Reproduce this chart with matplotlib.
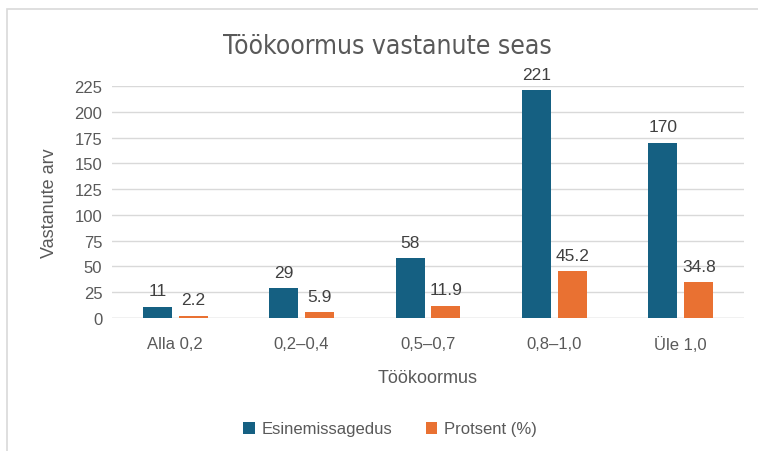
import matplotlib.pyplot as plt
import numpy as np
from matplotlib.patches import Rectangle

# data
categories = ["Alla 0,2", "0,2–0,4", "0,5–0,7", "0,8–1,0", "Üle 1,0"]
frequency = [11, 29, 58, 221, 170]
percent = [2.2, 5.9, 11.9, 45.2, 34.8]
yticks = [0, 25, 50, 75, 100, 125, 150, 175, 200, 225]

plt.rcParams['font.family'] = ['Liberation Sans', 'DejaVu Sans']

blue = "#156082"
orange = "#E97132"
text_col = "#595959"

fig = plt.figure(figsize=(7.58, 4.52), dpi=100)
ax = fig.add_axes([112 / 758, 133 / 452, 632 / 758, 232 / 452])

x = np.arange(len(categories))
w = 0.23
off = 0.142
b1 = ax.bar(x - off, frequency, w, color=blue, label="Esinemissagedus", zorder=3)
b2 = ax.bar(x + off, percent, w, color=orange, label="Protsent (%)", zorder=3)

for bars, vals in ((b1, frequency), (b2, percent)):
    for rect, v in zip(bars, vals):
        ax.annotate(str(v), (rect.get_x() + rect.get_width() / 2, rect.get_height()),
                    xytext=(0, 6), textcoords="offset points", ha="center", va="bottom",
                    fontsize=12.5, color="#404040")

ax.set_xlim(-0.5, len(categories) - 0.5)
ax.set_ylim(0, 225)
ax.set_yticks(yticks)
ax.set_xticks(x)
ax.set_xticklabels(categories)
ax.tick_params(axis="both", length=0, labelsize=12, colors=text_col)
ax.tick_params(axis="x", pad=13)
ax.tick_params(axis="y", pad=7)
ax.grid(axis="y", color="#d9d9d9", linewidth=1, zorder=0)
for s in ax.spines.values():
    s.set_visible(False)
ax.axhline(0, color="#d9d9d9", linewidth=1, zorder=2)

ax.set_xlabel("Töökoormus", fontsize=13, color=text_col, labelpad=12)
ax.set_ylabel("Vastanute arv", fontsize=13, color=text_col, labelpad=12)

fig.text(387 / 758, 1 - 47 / 452, "Töökoormus vastanute seas", ha="center", va="center",
         fontsize=19, color="#595959", stretch="condensed",
         family=["DejaVu Sans", "Liberation Sans"])

fig.legend(handles=[b1, b2], loc="center", bbox_to_anchor=(390 / 758, 1 - 430 / 452),
           ncol=2, frameon=False, fontsize=12, labelcolor=text_col,
           handlelength=0.7, handleheight=0.7, columnspacing=2.0, handletextpad=0.4)

# chart border
fig.patches.append(Rectangle((7 / 758, -0.05), 1.1, 1 - 10 / 452 + 0.05,
                             transform=fig.transFigure, fill=False,
                             edgecolor="#d9d9d9", linewidth=1.2))

fig.savefig("out.png", dpi=100)
